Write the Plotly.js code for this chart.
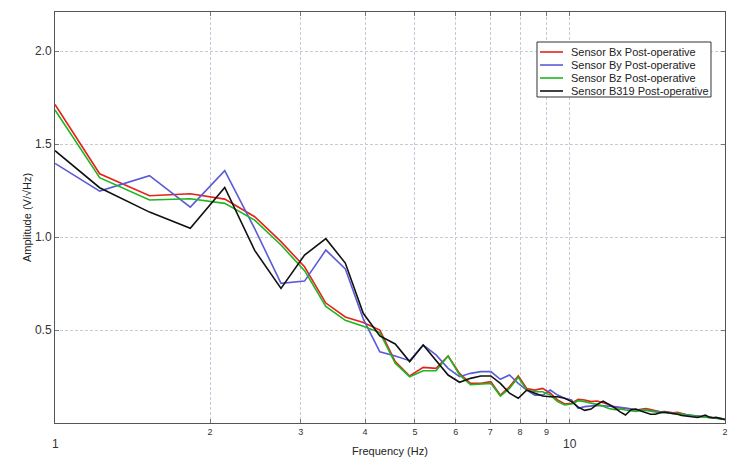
<!DOCTYPE html>
<html>
<head>
<meta charset="utf-8">
<script src="https://cdn.plot.ly/plotly-3.0.1.min.js"></script>
<style>html,body{margin:0;padding:0;background:#fff;}#chart{width:750px;height:465px;}</style>
</head>
<body>
<div id="chart"></div>
<script>
// Frequencies (Hz): left edge, then FFT bins
const freq = [1.000, 1.221, 1.526, 1.831, 2.136, 2.442, 2.747, 3.052, 3.357, 3.662, 3.968,
  4.273, 4.578, 4.883, 5.188, 5.494, 5.799, 6.104, 6.409, 6.714, 7.020,
  7.325, 7.630, 7.935, 8.240, 8.546, 8.851, 9.156, 9.461, 9.766, 10.072,
  10.377, 10.682, 10.987, 11.292, 11.598, 11.903, 12.208, 12.513, 12.818, 13.124,
  13.429, 13.734, 14.039, 14.344, 14.650, 14.955, 15.260, 15.565, 15.870, 16.176,
  16.481, 16.786, 17.091, 17.396, 17.702, 18.007, 18.312, 18.617, 18.922, 19.228,
  19.533, 19.838, 20.143];

const sensorBx = [1.713, 1.340, 1.222, 1.233, 1.204, 1.109, 0.975, 0.840, 0.645, 0.570, 0.540,
  0.500, 0.330, 0.253, 0.299, 0.294, 0.360, 0.267, 0.213, 0.213, 0.222,
  0.150, 0.195, 0.253, 0.186, 0.177, 0.186, 0.160, 0.124, 0.102, 0.106,
  0.127, 0.124, 0.115, 0.118, 0.110, 0.100, 0.085, 0.082, 0.080, 0.075,
  0.070, 0.075, 0.078, 0.072, 0.065, 0.060, 0.062, 0.058, 0.055, 0.058,
  0.050, 0.045, 0.042, 0.040, 0.038, 0.035, 0.032, 0.030, 0.032, 0.028,
  0.025, 0.022, 0.020];

const sensorBy = [1.396, 1.247, 1.330, 1.161, 1.357, 1.045, 0.751, 0.763, 0.930, 0.829, 0.560,
  0.383, 0.360, 0.335, 0.419, 0.366, 0.294, 0.249, 0.267, 0.276, 0.276,
  0.235, 0.258, 0.213, 0.177, 0.150, 0.150, 0.177, 0.150, 0.133, 0.124,
  0.079, 0.088, 0.091, 0.095, 0.093, 0.092, 0.088, 0.085, 0.080, 0.078,
  0.072, 0.070, 0.068, 0.065, 0.062, 0.062, 0.060, 0.056, 0.052, 0.050,
  0.048, 0.046, 0.042, 0.040, 0.038, 0.034, 0.032, 0.030, 0.028, 0.026,
  0.024, 0.022, 0.020];

const sensorBz = [1.683, 1.319, 1.199, 1.206, 1.181, 1.091, 0.957, 0.819, 0.627, 0.552, 0.520,
  0.486, 0.321, 0.249, 0.281, 0.281, 0.360, 0.258, 0.206, 0.208, 0.213,
  0.145, 0.186, 0.246, 0.177, 0.168, 0.168, 0.150, 0.115, 0.097, 0.102,
  0.120, 0.115, 0.106, 0.100, 0.090, 0.078, 0.072, 0.075, 0.070, 0.066,
  0.062, 0.068, 0.072, 0.064, 0.058, 0.056, 0.058, 0.054, 0.050, 0.054,
  0.047, 0.042, 0.040, 0.038, 0.035, 0.033, 0.030, 0.028, 0.030, 0.026,
  0.024, 0.022, 0.020];

const sensorB319 = [1.464, 1.265, 1.134, 1.047, 1.267, 0.928, 0.724, 0.903, 0.991, 0.860, 0.590,
  0.468, 0.425, 0.330, 0.419, 0.339, 0.258, 0.219, 0.240, 0.253, 0.253,
  0.213, 0.160, 0.133, 0.177, 0.160, 0.145, 0.141, 0.141, 0.133, 0.115,
  0.085, 0.068, 0.075, 0.100, 0.118, 0.100, 0.082, 0.060, 0.043, 0.070,
  0.075, 0.065, 0.055, 0.047, 0.047, 0.055, 0.058, 0.055, 0.050, 0.047,
  0.040, 0.038, 0.036, 0.033, 0.030, 0.036, 0.043, 0.032, 0.028, 0.030,
  0.025, 0.020, 0.015];

const seriesNames = ["Sensor Bx Post-operative", "Sensor By Post-operative",
  "Sensor Bz Post-operative", "Sensor B319 Post-operative"];
const seriesColors = ["#e3221c", "#5b5bd6", "#1fb51f", "#111111"];
const seriesData = [sensorBx, sensorBy, sensorBz, sensorB319];

const xTickVals = [2, 3, 4, 5, 6, 7, 8, 9, 10, 20];
const xTickText = ["2", "3", "4", "5", "6", "7", "8", "9", "", "2"];
const xBigLabels = [{v: 1, t: "1"}, {v: 10, t: "10"}];
const yTickVals = [0.5, 1.0, 1.5, 2.0];
const yTickText = ["0.5", "1.0", "1.5", "2.0"];

const traces = seriesData.map((ys, i) => ({
  x: freq, y: ys, type: "scatter", mode: "lines", name: seriesNames[i],
  line: {color: seriesColors[i], width: 1.6}, showlegend: false
}));

// custom compact legend
const lgX0 = 0.7194, lgX1 = 0.9791, lgY0 = 0.7932, lgY1 = 0.927;
const rowY = [0.9027, 0.8710, 0.8394, 0.8078];
const shapes = [{type: "rect", xref: "paper", yref: "paper", x0: lgX0, x1: lgX1, y0: lgY0, y1: lgY1,
  line: {color: "#333", width: 1}, fillcolor: "#fff", layer: "above"}];
const annotations = [];
seriesNames.forEach((n, i) => {
  shapes.push({type: "line", xref: "paper", yref: "paper", x0: 0.7239, x1: 0.7582, y0: rowY[i], y1: rowY[i],
    line: {color: seriesColors[i], width: 1.6}, layer: "above"});
  annotations.push({xref: "paper", yref: "paper", x: 0.7672, y: rowY[i], xanchor: "left", yanchor: "middle",
    text: n, showarrow: false, font: {family: "Liberation Sans, Arial, sans-serif", size: 11, color: "#222"}});
});
xBigLabels.forEach(b => {
  annotations.push({xref: "x", yref: "paper", x: Math.log10(b.v), y: -0.03, xanchor: "center", yanchor: "top",
    text: b.t, showarrow: false, font: {family: "Liberation Sans, Arial, sans-serif", size: 12, color: "#333"}});
});

const layout = {
  width: 750, height: 465,
  margin: {l: 55, r: 25, t: 12, b: 42},
  paper_bgcolor: "#fff", plot_bgcolor: "#fff",
  font: {family: "Liberation Sans, Arial, sans-serif", color: "#333"},
  showlegend: false,
  xaxis: {
    type: "log", range: [0, Math.log10(20)],
    tickvals: xTickVals, ticktext: xTickText,
    tickfont: {size: 9, color: "#333"},
    ticks: "inside", ticklen: 4, tickcolor: "#777",
    showgrid: true, gridcolor: "#c6c9dc", griddash: "3px,2px", gridwidth: 1,
    showline: true, linecolor: "#555", linewidth: 1, mirror: "ticks",
    zeroline: false,
    title: {text: "Frequency (Hz)", font: {size: 11, color: "#222"}, standoff: 11}
  },
  yaxis: {
    range: [0, 2.21],
    tickvals: yTickVals, ticktext: yTickText,
    tickfont: {size: 12, color: "#333"},
    ticks: "inside", ticklen: 4, tickcolor: "#777",
    showgrid: true, gridcolor: "#cacad2", griddash: "3px,2px", gridwidth: 1,
    showline: true, linecolor: "#555", linewidth: 1, mirror: "ticks",
    zeroline: false,
    title: {text: "Amplitude (V/√Hz)", font: {size: 11, color: "#222"}, standoff: 1}
  },
  shapes: shapes,
  annotations: annotations
};

Plotly.newPlot("chart", traces, layout, {displayModeBar: false, staticPlot: true});
</script>
</body>
</html>
